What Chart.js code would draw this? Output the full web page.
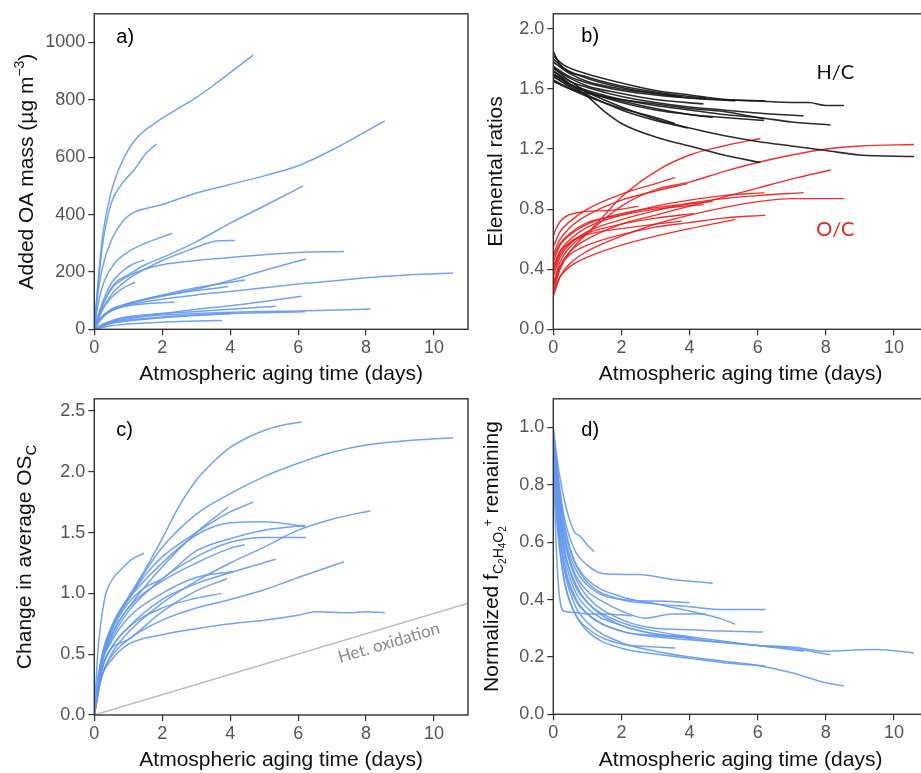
<!DOCTYPE html>
<html>
<head>
<meta charset="utf-8">
<script src="https://cdn.jsdelivr.net/npm/chart.js@4.4.1/dist/chart.umd.min.js"></script>
<style>
  html, body { margin: 0; padding: 0; background: #fff; }
  #wrap { position: relative; width: 921px; height: 773px; overflow: hidden; }
  canvas { position: absolute; }
</style>
</head>
<body>
<div id="wrap">
  <canvas id="chartA" width="470" height="387" style="left:0;top:0"></canvas>
  <canvas id="chartB" width="470" height="387" style="left:460px;top:0"></canvas>
  <canvas id="chartC" width="470" height="388" style="left:0;top:385px"></canvas>
  <canvas id="chartD" width="470" height="388" style="left:460px;top:385px"></canvas>
</div>
<script>
// ---- tick values ----
const xTicks = [0, 2, 4, 6, 8, 10];
const oaTicks = [0, 200, 400, 600, 800, 1000];
const ratioTicks = [0, 0.4, 0.8, 1.2, 1.6, 2.0];
const oscTicks = [0, 0.5, 1.0, 1.5, 2.0, 2.5];
const fracTicks = [0, 0.2, 0.4, 0.6, 0.8, 1.0];

// ---- a) added OA mass, [days, ug m-3] ----
const oaMass = [
  [[0,0],[0.1,150],[0.25,330],[0.5,480],[0.8,580],[1.2,660],[1.8,720],[2.5,772],[3.0,808],[3.5,850],[4.0,895],[4.68,956]],
  [[0,0],[0.1,140],[0.25,300],[0.5,440],[0.8,505],[1.2,560],[1.5,610],[1.83,646]],
  [[0,0],[0.1,120],[0.25,220],[0.5,310],[0.8,370],[1.05,400],[2.0,435],[3.0,475],[4.0,505],[5.0,535],[6.0,570],[7.0,625],[8.0,690],[8.55,727]],
  [[0,0],[0.1,40],[0.3,100],[0.6,160],[1.0,190],[1.5,225],[2.0,250],[3.0,305],[4.0,370],[5.0,430],[6.15,500]],
  [[0,0],[0.1,80],[0.3,170],[0.6,230],[1.0,270],[1.5,300],[2.29,334]],
  [[0,0],[0.2,60],[0.5,120],[1.0,175],[1.5,210],[2.0,240],[2.6,268],[3.2,295],[3.6,308],[4.14,310]],
  [[0,0],[0.2,70],[0.5,140],[1.0,185],[1.5,210],[2.0,225],[3.0,240],[4.0,250],[5.0,260],[6.0,268],[7.35,271]],
  [[0,0],[0.2,80],[0.5,160],[0.8,200],[1.1,225],[1.47,242]],
  [[0,0],[0.2,60],[0.5,110],[0.8,140],[1.2,164]],
  [[0,0],[0.2,40],[0.5,70],[1.0,90],[2.0,115],[3.0,140],[4.0,170],[5.0,205],[6.23,245]],
  [[0,0],[0.2,40],[0.5,65],[1.0,85],[2.0,105],[3.0,120],[4.0,132],[5.0,145],[6.0,158],[7.0,168],[8.0,180],[9.0,188],[10.56,196]],
  [[0,0],[0.2,40],[0.6,70],[1.0,88],[2.0,120],[3.0,145],[4.43,172]],
  [[0,0],[0.2,40],[0.6,70],[1.0,90],[2.0,118],[3.0,135],[3.94,149]],
  [[0,0],[0.2,35],[0.5,65],[1.0,82],[1.6,90],[2.37,95]],
  [[0,0],[0.3,20],[0.8,40],[2.0,55],[3.0,70],[4.0,82],[5.0,97],[6.1,115]],
  [[0,0],[0.3,20],[1.0,40],[2.0,55],[3.0,62],[4.0,70],[5.34,80]],
  [[0,0],[0.5,25],[1.5,45],[3.0,55],[5.0,62],[6.0,64],[8.13,71]],
  [[0,0],[0.5,22],[1.5,38],[3.0,50],[4.5,57],[6.2,61]],
  [[0,0],[0.5,12],[1.5,22],[2.5,27],[3.77,31]],
  [[0,0],[0.5,20],[1.5,35],[3.0,48],[4.0,55]]
];

// ---- b) elemental ratios ----
const hcRatio = [
  [[0,1.80],[0.3,1.74],[1,1.67],[2,1.61],[3,1.57],[4,1.54],[5,1.53],[6,1.52],[7,1.51],[7.5,1.51],[8,1.49],[8.53,1.49]],
  [[0,1.82],[0.3,1.76],[1,1.70],[2,1.64],[3,1.59],[4,1.56],[5,1.53],[6.23,1.52]],
  [[0,1.75],[0.5,1.68],[1,1.64],[2,1.59],[3,1.56],[4,1.54],[5.34,1.52]],
  [[0,1.72],[0.5,1.65],[1,1.61],[2,1.55],[3,1.51],[4,1.48],[5,1.46],[6,1.44],[7.35,1.42]],
  [[0,1.70],[0.5,1.63],[1,1.59],[2,1.53],[3,1.49],[4,1.46],[5,1.43],[6,1.41],[7,1.38],[8.14,1.36]],
  [[0,1.68],[0.5,1.62],[1,1.58],[2,1.51],[3,1.46],[4,1.43],[5,1.41],[6.18,1.39]],
  [[0,1.70],[0.5,1.63],[1,1.58],[2,1.52],[3,1.47],[4,1.43],[4.68,1.41]],
  [[0,1.74],[0.5,1.67],[1,1.62],[2,1.57],[3,1.53],[4.41,1.50]],
  [[0,1.78],[0.5,1.70],[1,1.65],[2,1.60],[3,1.57],[3.77,1.55]],
  [[0,1.66],[0.5,1.60],[1,1.55],[2,1.47],[3,1.41],[3.57,1.37]],
  [[0,1.69],[0.5,1.61],[1,1.56],[2,1.46],[3,1.39],[3.94,1.34]],
  [[0,1.74],[0.5,1.65],[1,1.58],[2,1.48],[3,1.40],[4,1.34],[5,1.29],[6,1.25],[7,1.22],[8,1.19],[9,1.16],[10.59,1.15]],
  [[0,1.72],[0.5,1.63],[1,1.55],[1.5,1.45],[2,1.37],[3,1.28],[4,1.22],[5,1.16],[6.08,1.11]],
  [[0,1.65],[0.5,1.60],[1,1.57],[2,1.53],[3,1.50],[4,1.47],[5,1.45],[6.2,1.40]],
  [[0,1.85],[0.2,1.76],[1,1.68],[2,1.62],[3,1.58],[4,1.55],[4.5,1.54]]
];
const ocRatio = [
  [[0,0.30],[0.2,0.45],[0.5,0.55],[1,0.64],[2,0.82],[3,0.93],[4,0.98],[5,1.05],[6,1.11],[7,1.16],[8,1.20],[9,1.22],[10.59,1.23]],
  [[0,0.25],[0.2,0.40],[0.5,0.52],[1,0.64],[1.5,0.76],[2,0.88],[3,1.05],[4,1.16],[5,1.22],[6.08,1.27]],
  [[0,0.28],[0.2,0.42],[0.5,0.52],[1,0.60],[2,0.70],[3,0.76],[4,0.82],[5,0.88],[6,0.94],[7,1.00],[8.14,1.06]],
  [[0,0.35],[0.2,0.48],[0.5,0.57],[1,0.65],[2,0.73],[3,0.79],[4,0.84],[5,0.87],[6,0.89],[7.35,0.91]],
  [[0,0.22],[0.2,0.35],[0.5,0.44],[1,0.52],[2,0.62],[3,0.70],[4,0.76],[5,0.81],[6,0.85],[7,0.87],[8.53,0.87]],
  [[0,0.40],[0.2,0.52],[0.5,0.60],[1,0.68],[2,0.76],[3,0.82],[4,0.86],[5,0.89],[6.2,0.91]],
  [[0,0.30],[0.2,0.42],[0.5,0.50],[1,0.56],[2,0.63],[3,0.68],[4,0.71],[5,0.74],[6.23,0.76]],
  [[0,0.25],[0.2,0.35],[0.5,0.42],[1,0.48],[2,0.56],[3,0.62],[4,0.67],[5.34,0.73]],
  [[0,0.45],[0.2,0.56],[0.5,0.63],[1,0.70],[2,0.77],[3,0.81],[4.68,0.85]],
  [[0,0.38],[0.2,0.50],[0.5,0.58],[1,0.64],[2,0.70],[3,0.74],[4.12,0.77]],
  [[0,0.50],[0.2,0.60],[0.5,0.68],[1,0.76],[2,0.86],[3,0.92],[3.94,0.97]],
  [[0,0.55],[0.2,0.65],[0.5,0.72],[1,0.80],[2,0.90],[3,0.97],[3.57,1.01]],
  [[0,0.42],[0.2,0.52],[0.5,0.58],[1,0.63],[2,0.67],[3,0.70],[3.77,0.72]],
  [[0,0.48],[0.2,0.57],[0.5,0.64],[1,0.71],[2,0.76],[3,0.80],[4.41,0.83]],
  [[0,0.62],[0.1,0.68],[0.3,0.74],[0.8,0.78],[1.5,0.79],[2,0.80],[2.5,0.82]]
];

// ---- c) change in average OSc ----
const oscChange = [
  [[0,0],[0.1,0.3],[0.3,0.55],[0.6,0.78],[1.0,0.97],[1.4,1.15],[2.0,1.45],[2.5,1.72],[3.0,1.93],[3.5,2.08],[4.0,2.2],[4.5,2.28],[5.0,2.34],[5.5,2.38],[6.1,2.41]],
  [[0,0],[0.2,0.4],[0.5,0.7],[1.0,0.95],[1.5,1.18],[2.0,1.38],[3.0,1.65],[4.0,1.82],[5.0,1.96],[6.0,2.07],[7.0,2.16],[8.0,2.22],[9.0,2.25],[10.56,2.28]],
  [[0,0],[0.1,0.5],[0.3,0.95],[0.5,1.10],[0.8,1.20],[1.1,1.28],[1.47,1.33]],
  [[0,0],[0.2,0.45],[0.5,0.72],[1.0,0.95],[1.5,1.15],[2.0,1.30],[3.0,1.50],[4.0,1.67],[4.68,1.75]],
  [[0,0],[0.2,0.4],[0.5,0.65],[1.0,0.88],[2.0,1.22],[3.0,1.50],[3.94,1.71]],
  [[0,0],[0.2,0.45],[0.5,0.72],[1.0,0.95],[2.0,1.25],[3.0,1.48],[4.0,1.58],[5.0,1.59],[6.2,1.55]],
  [[0,0],[0.2,0.4],[0.5,0.62],[1.0,0.85],[2.0,1.12],[3.0,1.30],[4.0,1.42],[5.0,1.46],[6.23,1.46]],
  [[0,0],[0.2,0.3],[0.5,0.5],[1.0,0.68],[2.0,0.92],[3.0,1.10],[4.0,1.25],[5.0,1.38],[6.0,1.52],[7.0,1.61],[8.13,1.68]],
  [[0,0],[0.2,0.4],[0.5,0.65],[1.0,0.88],[2.0,1.10],[3.0,1.25],[4.0,1.37],[4.43,1.40]],
  [[0,0],[0.2,0.4],[0.5,0.6],[1.0,0.8],[2.0,1.0],[3.0,1.13],[4.09,1.18]],
  [[0,0],[0.2,0.35],[0.5,0.55],[1.0,0.72],[2.0,0.95],[3.0,1.08],[4.0,1.17],[5.34,1.28]],
  [[0,0],[0.2,0.3],[0.5,0.48],[1.0,0.62],[2.0,0.78],[3.0,0.88],[4.0,0.95],[5.0,1.03],[6.0,1.13],[7.35,1.26]],
  [[0,0],[0.2,0.35],[0.5,0.55],[1.0,0.72],[2.0,0.88],[3.0,0.96],[3.74,1.00]],
  [[0,0],[0.2,0.3],[0.5,0.45],[1.0,0.58],[2.0,0.66],[3.0,0.71],[4.0,0.75],[5.0,0.78],[6.0,0.82],[6.5,0.85],[7.5,0.84],[8.0,0.85],[8.55,0.84]],
  [[0,0],[0.2,0.4],[0.5,0.68],[1.0,0.92],[1.5,1.05],[2.0,1.12],[3.0,1.35],[4.0,1.45],[5.0,1.52],[6.2,1.56]],
  [[0,0],[0.3,0.45],[1.0,0.62],[2.0,0.85],[3.0,1.02],[3.9,1.12]]
];
const hetOxidation = [[0, 0], [11, 0.92]];

// ---- d) normalized f(C2H4O2+) remaining ----
const fRemaining = [
  [[0,1.0],[0.1,0.9],[0.3,0.76],[0.6,0.64],[0.8,0.62],[1.0,0.59],[1.2,0.567]],
  [[0,1.0],[0.1,0.88],[0.3,0.7],[0.6,0.58],[1.0,0.52],[1.5,0.49],[2.5,0.487],[3.5,0.47],[4.68,0.457]],
  [[0,0.98],[0.1,0.86],[0.3,0.68],[0.6,0.54],[1.0,0.46],[2.0,0.40],[3.0,0.385],[4.0,0.375],[5.0,0.365],[6.23,0.365]],
  [[0,0.96],[0.1,0.85],[0.3,0.66],[0.6,0.54],[1.0,0.47],[2.0,0.41],[3.0,0.385],[4.0,0.36],[5.0,0.33],[5.34,0.314]],
  [[0,0.97],[0.1,0.82],[0.3,0.62],[0.6,0.49],[1.0,0.41],[2.0,0.33],[3.0,0.30],[4.0,0.295],[5.0,0.29],[6.16,0.287]],
  [[0,0.95],[0.1,0.78],[0.3,0.57],[0.6,0.44],[1.0,0.37],[2.0,0.31],[3.0,0.28],[4.0,0.265],[5.0,0.25],[6.0,0.24],[7.0,0.235],[8.0,0.22],[9.0,0.225],[9.5,0.226],[10.59,0.214]],
  [[0,0.94],[0.1,0.78],[0.3,0.59],[0.6,0.46],[1.0,0.39],[2.0,0.32],[3.0,0.29],[4.0,0.27],[5.0,0.255],[6.0,0.24],[7.0,0.23],[8.12,0.208]],
  [[0,0.92],[0.1,0.74],[0.3,0.54],[0.6,0.42],[1.0,0.35],[2.0,0.29],[3.0,0.27],[4.0,0.26],[5.0,0.25],[6.0,0.24],[7.35,0.22]],
  [[0,0.96],[0.1,0.74],[0.3,0.52],[0.6,0.39],[1.0,0.32],[2.0,0.25],[3.0,0.22],[4.0,0.20],[5.0,0.185],[6.0,0.17],[7.0,0.145],[8.0,0.11],[8.53,0.099]],
  [[0,0.93],[0.1,0.7],[0.3,0.48],[0.6,0.36],[1.0,0.29],[2.0,0.23],[3.0,0.21],[4.0,0.195],[5.0,0.18],[6.23,0.168]],
  [[0,0.9],[0.1,0.68],[0.3,0.48],[0.6,0.36],[1.0,0.3],[2.0,0.245],[3.0,0.235],[3.58,0.231]],
  [[0,0.92],[0.1,0.72],[0.3,0.53],[0.6,0.41],[1.0,0.35],[2.0,0.29],[3.0,0.275],[4.09,0.266]],
  [[0,0.98],[0.1,0.82],[0.3,0.63],[0.6,0.5],[1.0,0.43],[1.5,0.39],[2.0,0.36],[2.7,0.335],[3.5,0.35],[4.46,0.35]],
  [[0,0.95],[0.05,0.7],[0.15,0.45],[0.3,0.36],[0.6,0.355],[1.0,0.35],[1.5,0.35],[2.3,0.343]],
  [[0,0.97],[0.1,0.84],[0.3,0.64],[0.6,0.52],[1.0,0.45],[2.0,0.40],[3.0,0.395],[4.0,0.39]],
  [[0,0.96],[0.1,0.8],[0.3,0.59],[0.6,0.47],[1.0,0.39],[2.0,0.31],[3.0,0.28],[4.0,0.27]]
];

const FONT = "'Liberation Sans', Arial, Helvetica, sans-serif";
const NOTE_FONT = "Lato, 'Open Sans', sans-serif";
const BLUE = 'rgba(100, 152, 238, 0.9)';

function curves(list, color, width) {
  return list.map(pts => ({
    data: pts.map(([x, y]) => ({ x, y })),
    borderColor: color,
    borderWidth: width,
    pointRadius: 0,
    fill: false,
    cubicInterpolationMode: 'monotone'
  }));
}

// box around the plot area
const framePlugin = {
  id: 'frame',
  afterDatasetsDraw(chart) {
    const { ctx, chartArea: a } = chart;
    ctx.save();
    ctx.strokeStyle = '#333';
    ctx.lineWidth = 1.4;
    ctx.strokeRect(a.left, a.top, a.right - a.left, a.bottom - a.top);
    ctx.restore();
  }
};

// rotated y title with sub/superscripts
function yTitle(parts, baseX) {
  return {
    id: 'ytitle',
    afterDraw(chart) {
      const { ctx, chartArea: a } = chart;
      const cy = (a.top + a.bottom) / 2;
      ctx.save();
      let total = 0;
      const widths = parts.map(p => {
        ctx.font = `${p.size}px ${FONT}`;
        const w = ctx.measureText(p.text).width;
        total += w;
        return w;
      });
      ctx.translate(baseX, cy);
      ctx.rotate(-Math.PI / 2);
      ctx.fillStyle = '#111';
      ctx.textBaseline = 'alphabetic';
      ctx.textAlign = 'left';
      let x = -total / 2;
      parts.forEach((p, i) => {
        ctx.font = `${p.size}px ${FONT}`;
        ctx.fillText(p.text, x, p.dy || 0);
        x += widths[i];
      });
      ctx.restore();
    }
  };
}

// free text notes; pos given in data units, or px offset from plot corner
function notes(items) {
  return {
    id: 'notes',
    afterDatasetsDraw(chart) {
      const { ctx, chartArea: a, scales } = chart;
      items.forEach(n => {
        ctx.save();
        const px = n.corner ? a.left + n.corner[0] : scales.x.getPixelForValue(n.at[0]);
        const py = n.corner ? a.top + n.corner[1] : scales.y.getPixelForValue(n.at[1]);
        ctx.translate(px, py);
        if (n.rot) ctx.rotate(n.rot * Math.PI / 180);
        ctx.font = n.font;
        ctx.fillStyle = n.color;
        ctx.textAlign = n.align || 'center';
        ctx.textBaseline = 'middle';
        ctx.fillText(n.text, 0, 0);
        ctx.restore();
      });
    }
  };
}

function panel(id, opts) {
  const fixTicks = vals => axis => { axis.ticks = vals.map(v => ({ value: v })); };
  return new Chart(document.getElementById(id), {
    type: 'line',
    data: { datasets: opts.datasets },
    options: {
      responsive: false,
      animation: false,
      layout: { padding: { top: opts.padTop, right: 2, left: 0, bottom: 0 } },
      plugins: { legend: { display: false }, tooltip: { enabled: false } },
      scales: {
        x: {
          type: 'linear',
          min: 0,
          max: 11,
          afterBuildTicks: fixTicks(xTicks),
          afterFit: s => { s.height = opts.xHeight; },
          grid: { drawOnChartArea: false, drawTicks: true, tickLength: 6, color: '#333', lineWidth: 1.2 },
          border: { display: false },
          ticks: { color: '#555', font: { family: FONT, size: 18 }, padding: 2, maxRotation: 0 },
          title: {
            display: true,
            text: 'Atmospheric aging time (days)',
            color: '#111',
            font: { family: FONT, size: 21 },
            padding: { top: 0, bottom: 0 }
          }
        },
        y: {
          type: 'linear',
          min: 0,
          max: opts.yMax,
          afterBuildTicks: fixTicks(opts.yTicks),
          afterFit: s => { s.width = opts.yWidth; },
          grid: { drawOnChartArea: false, drawTicks: true, tickLength: 6, color: '#333', lineWidth: 1.2 },
          border: { display: false },
          ticks: {
            color: '#555',
            font: { family: FONT, size: 18 },
            padding: 3,
            callback: v => v.toFixed(opts.dec)
          }
        }
      }
    },
    plugins: [framePlugin, yTitle(opts.title, opts.titleX), notes(opts.notes)]
  });
}

panel('chartA', {
  datasets: curves(oaMass, BLUE, 1.5),
  yMax: 1100, yTicks: oaTicks, dec: 0,
  padTop: 10, xHeight: 57.7, yWidth: 94.3,
  title: [
    { text: 'Added OA mass (\u00b5g m', size: 21 },
    { text: '\u22123', size: 14, dy: -9 },
    { text: ')', size: 21 }
  ],
  titleX: 33,
  notes: [{ text: 'a)', corner: [22, 24], align: 'left', font: `20px ${FONT}`, color: '#000' }]
});

panel('chartB', {
  datasets: curves(hcRatio, 'rgba(25,25,25,0.92)', 1.6).concat(curves(ocRatio, 'rgba(238,30,30,0.92)', 1.4)),
  yMax: 2.1, yTicks: ratioTicks, dec: 1,
  padTop: 10, xHeight: 57.7, yWidth: 93.3,
  title: [{ text: 'Elemental ratios', size: 21 }],
  titleX: 41.5,
  notes: [
    { text: 'b)', corner: [28, 23], align: 'left', font: `20px ${FONT}`, color: '#000' },
    { text: 'H/C', at: [8.28, 1.71], font: `20px ${NOTE_FONT}`, color: '#111' },
    { text: 'O/C', at: [8.28, 0.666], font: `20px ${NOTE_FONT}`, color: '#e8201c' }
  ]
});

panel('chartC', {
  datasets: [{
    data: hetOxidation.map(([x, y]) => ({ x, y })),
    borderColor: '#bdbdbd', borderWidth: 1.5, pointRadius: 0, fill: false
  }].concat(curves(oscChange, BLUE, 1.5)),
  yMax: 2.6, yTicks: oscTicks, dec: 1,
  padTop: 10, xHeight: 58, yWidth: 94.3,
  title: [
    { text: 'Change in average OS', size: 21 },
    { text: 'C', size: 15, dy: 5 }
  ],
  titleX: 31,
  notes: [
    { text: 'c)', corner: [22, 32], align: 'left', font: `20px ${FONT}`, color: '#000' },
    { text: 'Het. oxidation', at: [8.67, 0.593], rot: -16.5, font: `17px ${NOTE_FONT}`, color: '#8a8a8a' }
  ]
});

panel('chartD', {
  datasets: curves(fRemaining, BLUE, 1.5),
  yMax: 1.1, yTicks: fracTicks, dec: 1,
  padTop: 10.7, xHeight: 58.7, yWidth: 93.3,
  title: [
    { text: 'Normalized f', size: 21 },
    { text: 'C', size: 14, dy: 5 },
    { text: '2', size: 10, dy: 8 },
    { text: 'H', size: 14, dy: 5 },
    { text: '4', size: 10, dy: 8 },
    { text: 'O', size: 14, dy: 5 },
    { text: '2', size: 10, dy: 8 },
    { text: '+', size: 12, dy: -6 },
    { text: ' remaining', size: 21 }
  ],
  titleX: 38,
  notes: [{ text: 'd)', corner: [28, 32], align: 'left', font: `20px ${FONT}`, color: '#000' }]
});
</script>
</body>
</html>
